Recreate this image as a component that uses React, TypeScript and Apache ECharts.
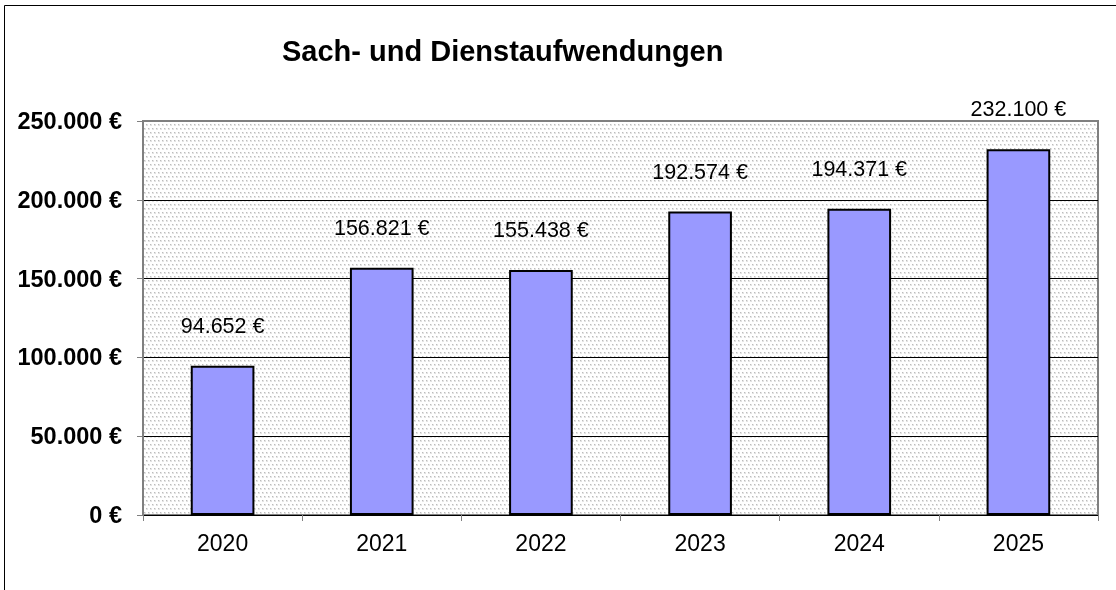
import React, { useEffect, useRef } from "react";
import * as echarts from "echarts";

const categories = ["2020", "2021", "2022", "2023", "2024", "2025"];
const values = [94652, 156821, 155438, 192574, 194371, 232100];
const titleText = "Sach- und Dienstaufwendungen";

const fmt = (v: number) =>
  String(Math.round(v)).replace(/\B(?=(\d{3})+(?!\d))/g, ".") + " €";

function makePattern() {
  const c = document.createElement("canvas");
  c.width = 4;
  c.height = 8;
  const ctx = c.getContext("2d")!;
  ctx.fillStyle = "#ffffff";
  ctx.fillRect(0, 0, 4, 8);
  const dot = (x: number, y: number) => {
    ctx.fillStyle = "#e4e4e4";
    ctx.fillRect(x, y, 2, 2);
    ctx.fillStyle = "#bcbcbc";
    ctx.fillRect(x, y, 1, 1);
  };
  dot(0, 0);
  dot(2, 4);
  return c;
}

export default function App() {
  const ref = useRef<HTMLDivElement>(null);
  useEffect(() => {
    document.body.style.margin = "0";
    const chart = echarts.init(ref.current!, null, { renderer: "svg" });
    const font = "'Liberation Sans', Arial, sans-serif";
    chart.setOption({
      animation: false,
      textStyle: { fontFamily: font },
      title: {
        text: titleText,
        left: 277,
        top: 31,
        textStyle: { fontSize: 29, fontWeight: "bold", color: "#000", fontFamily: font },
      },
      graphic: [
        {
          type: "rect",
          shape: { x: 4.5, y: 5.5, width: 1200, height: 700 },
          style: { fill: "none", stroke: "#000", lineWidth: 1 },
          silent: true,
        },
      ],
      grid: {
        left: 143,
        right: 1116 - 1098,
        top: 121,
        bottom: 590 - 515,
        show: true,
        borderColor: "#808080",
        borderWidth: 2,
        backgroundColor: { image: makePattern(), repeat: "repeat" },
      },
      xAxis: {
        type: "category",
        data: categories,
        axisLine: { show: true, lineStyle: { color: "#000", width: 1 } },
        axisTick: { show: true, length: 6, lineStyle: { color: "#808080" } },
        axisLabel: { fontSize: 23, color: "#000", margin: 16, fontFamily: font },
      },
      yAxis: {
        type: "value",
        min: 0,
        max: 250000,
        interval: 50000,
        axisLine: { show: true, lineStyle: { color: "#808080", width: 1 } },
        axisTick: { show: true, length: 6, lineStyle: { color: "#808080" } },
        axisLabel: {
          fontSize: 23.5,
          fontWeight: "bold",
          color: "#000",
          margin: 21,
          fontFamily: font,
          formatter: (v: number) => fmt(v),
        },
        splitLine: {
          show: true,
          lineStyle: {
            color: ["#000", "#000", "#000", "#000", "#000", "#808080"],
            width: 1,
          },
        },
      },
      series: [
        {
          type: "bar",
          data: values,
          barWidth: "40%",
          itemStyle: { color: "#9999FF", borderColor: "#000", borderWidth: 2 },
          label: {
            show: true,
            position: "top",
            distance: 29,
            fontSize: 21.5,
            color: "#000",
            fontFamily: font,
            formatter: (p: any) => fmt(p.value),
          },
        },
      ],
    });
    return () => chart.dispose();
  }, []);
  return (
    <div
      ref={ref}
      style={{ position: "fixed", left: 0, top: 0, width: 1116, height: 590 }}
    />
  );
}
